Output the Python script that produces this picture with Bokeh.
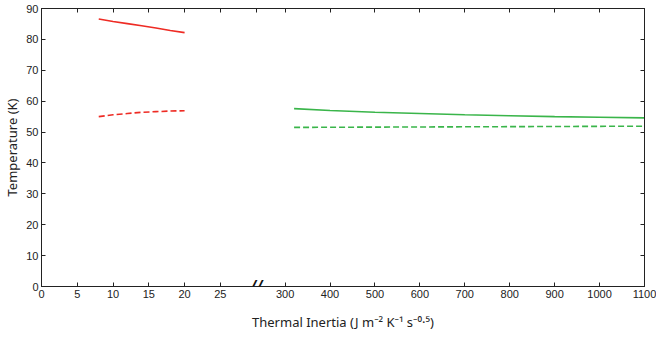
from bokeh.plotting import figure
from bokeh.models import Range1d, LinearAxis, FixedTicker, Label
from bokeh.embed import file_html
from bokeh.resources import INLINE

# ---- data ----
ti_low = [8, 10, 12, 14, 16, 18, 20]
t_low_solid = [86.6, 85.8, 85.1, 84.4, 83.7, 82.9, 82.2]
t_low_dash = [55.0, 55.6, 56.0, 56.4, 56.6, 56.8, 56.9]

ti_high = [320, 400, 500, 600, 700, 800, 900, 1000, 1100]
t_high_solid = [57.6, 57.0, 56.4, 56.0, 55.6, 55.3, 55.0, 54.8, 54.6]
t_high_dash = [51.5, 51.55, 51.6, 51.65, 51.7, 51.75, 51.8, 51.85, 51.9]

low_ticks = [0, 5, 10, 15, 20, 25]
low_break = 30
high_ticks = [300, 400, 500, 600, 700, 800, 900, 1000, 1100]
y_ticks = [0, 10, 20, 30, 40, 50, 60, 70, 80, 90]

RED = "#ee2b24"
GREEN = "#3ab54a"
TICK_FONT = "Liberation Sans"
TITLE_FONT = "Noto Sans"

# ---- layout of the broken axis (pixels of frame) ----
FIG_W, FIG_H = 656, 333
B_LEFT, B_RIGHT, B_TOP, B_BOTTOM = 40, 12, 8, 43
W_FRAME = FIG_W - B_LEFT - B_RIGHT
W_LOW, W_GAP = 215, 29
W_HIGH = W_FRAME - W_LOW - W_GAP
lo_start, lo_end = 0.0, low_break * W_FRAME / W_LOW
hi_end = high_ticks[-1]
hi_start = hi_end - (high_ticks[-1] - high_ticks[0]) * W_FRAME / W_HIGH


def hi_to_lo(v):
    return lo_start + (v - hi_start) * (lo_end - lo_start) / (hi_end - hi_start)


p = figure(width=FIG_W, height=FIG_H, output_backend="svg", toolbar_location=None,
           x_range=Range1d(lo_start, lo_end), y_range=Range1d(0, 90),
           x_axis_location=None, y_axis_location=None,
           min_border_left=B_LEFT, min_border_right=B_RIGHT, min_border_top=B_TOP,
           min_border_bottom=B_BOTTOM)
p.extra_x_ranges = {"high": Range1d(hi_start, hi_end)}
p.grid.visible = False
p.outline_line_color = "#222222"
p.background_fill_color = "white"
p.border_fill_color = "white"

bottom_ticks = low_ticks + [hi_to_lo(v) for v in high_ticks]
top_ticks = low_ticks + [low_break] + [hi_to_lo(v) for v in high_ticks]
overrides = {}
for v in low_ticks:
    overrides[v] = str(v)
for v in high_ticks:
    overrides[hi_to_lo(v)] = str(v)


def style(ax):
    ax.major_tick_in = 4
    ax.major_tick_out = 0
    ax.minor_tick_line_color = None
    ax.axis_line_color = "#222222"
    ax.major_tick_line_color = "#222222"
    ax.major_label_text_font = TICK_FONT
    ax.major_label_text_font_size = "11px"
    ax.major_label_text_color = "#222222"


def hide_labels(ax):
    ax.major_label_text_font_size = "0px"
    ax.major_label_text_color = None
    ax.major_label_text_alpha = 0
    ax.major_label_standoff = 0


xb = LinearAxis(ticker=FixedTicker(ticks=bottom_ticks), major_label_overrides=overrides,
                axis_label="Thermal Inertia (J m\u207b\u00b2 K\u207b\u00b9 s\u207b\u2070\u00b7\u2075)")
style(xb)
xb.major_label_standoff = 3
xb.axis_label_standoff = 12
xb.axis_label_text_font = TITLE_FONT
xb.axis_label_text_font_size = "13px"
xb.axis_label_text_font_style = "normal"
xb.axis_label_text_color = "#222222"
p.add_layout(xb, "below")

xt = LinearAxis(ticker=FixedTicker(ticks=top_ticks))
style(xt)
hide_labels(xt)
p.add_layout(xt, "above")

yl = LinearAxis(ticker=FixedTicker(ticks=y_ticks), axis_label="Temperature (K)")
style(yl)
yl.major_label_standoff = 3
yl.axis_label_standoff = 2
yl.axis_label_text_font = TITLE_FONT
yl.axis_label_text_font_size = "13px"
yl.axis_label_text_font_style = "normal"
yl.axis_label_text_color = "#222222"
p.add_layout(yl, "left")

yr = LinearAxis(ticker=FixedTicker(ticks=y_ticks))
style(yr)
hide_labels(yr)
p.add_layout(yr, "right")

# ---- lines ----
p.line(ti_low, t_low_solid, line_color=RED, line_width=1.6)
p.line(ti_low, t_low_dash, line_color=RED, line_width=1.6, line_dash="6 3")
p.line(ti_high, t_high_solid, line_color=GREEN, line_width=1.6, x_range_name="high")
p.line(ti_high, t_high_dash, line_color=GREEN, line_width=1.6, line_dash="6 3",
       x_range_name="high")

# ---- axis break marker ----
brk = Label(x=low_break, y=0, text="//", text_align="center", text_baseline="middle",
            text_font="DejaVu Sans", text_font_size="17px", text_font_style="bold italic",
            text_color="#111111")
p.add_layout(brk)

open("out.html", "w").write(file_html(p, INLINE))
